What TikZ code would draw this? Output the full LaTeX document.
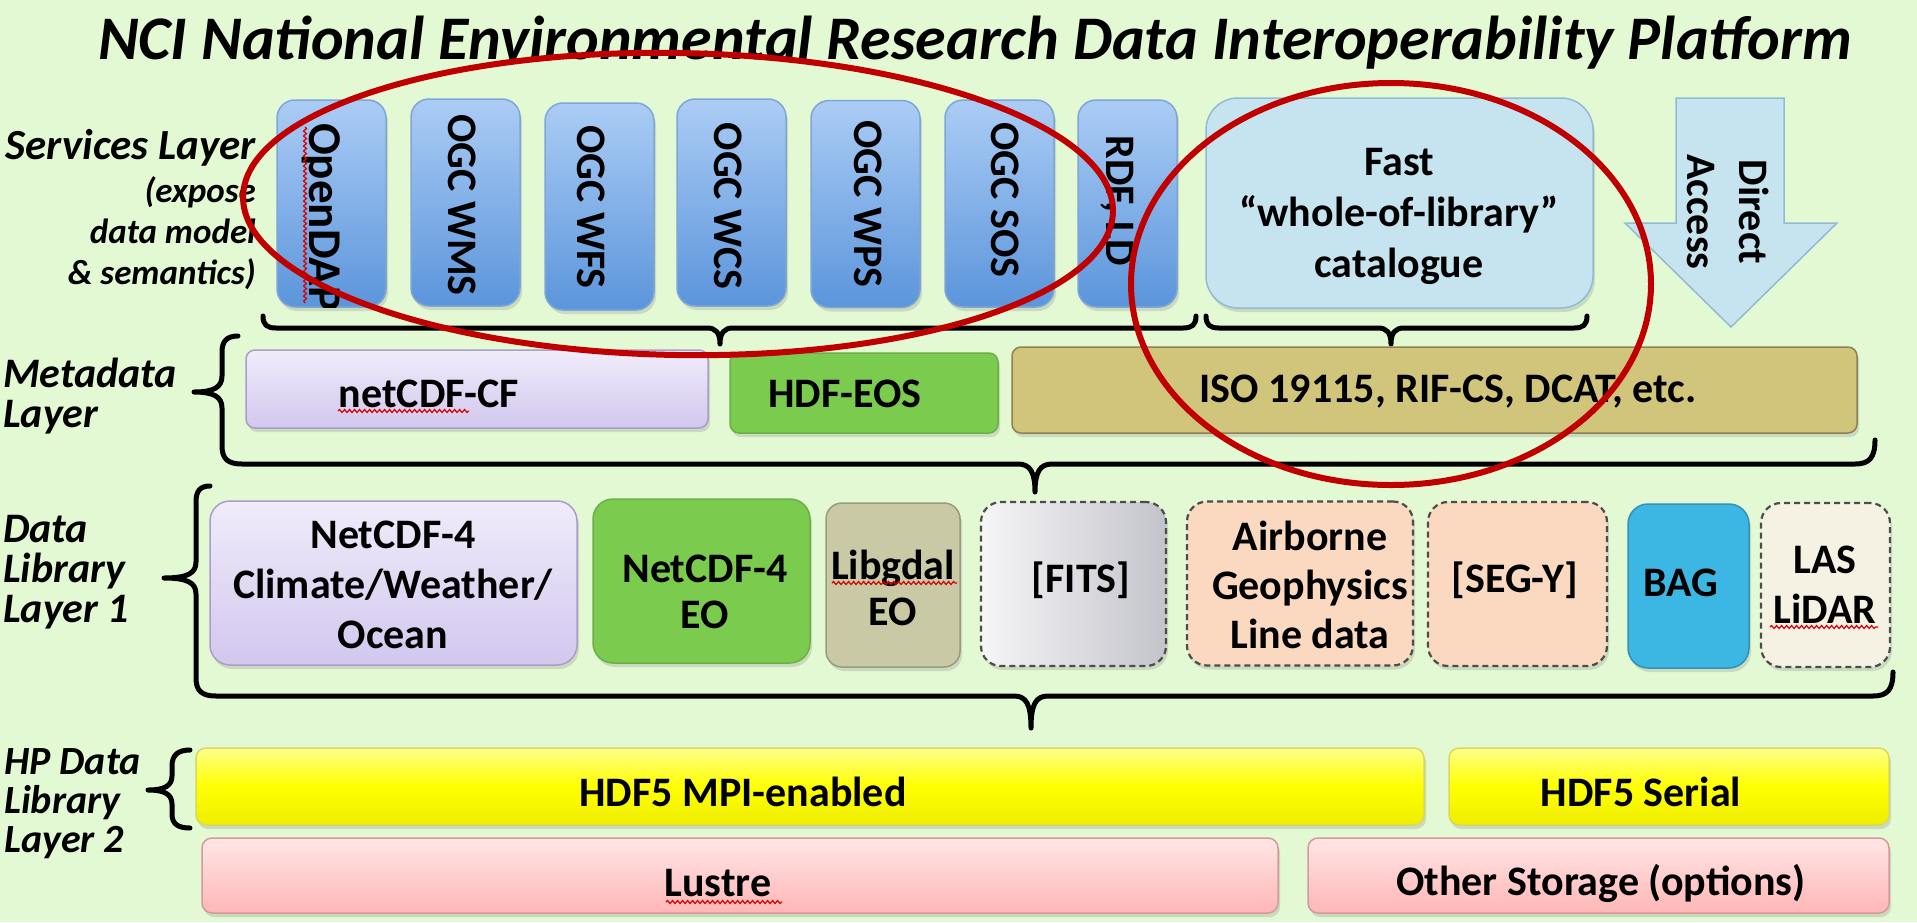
\documentclass[tikz,border=0pt]{standalone}
\usepackage{fontspec}
\setmainfont{Carlito}
\usetikzlibrary{shadows,decorations.pathmorphing}
\definecolor{bg}{HTML}{E3F9D4}
\definecolor{blueTop}{HTML}{ABCCF5}
\definecolor{blueBot}{HTML}{5B95DB}
\definecolor{blueDraw}{HTML}{7FA6D6}
\definecolor{catFill}{HTML}{C6E4EF}
\definecolor{catDraw}{HTML}{93BAD3}
\definecolor{lavTop}{HTML}{F0ECFA}
\definecolor{lavBot}{HTML}{D2C7EE}
\definecolor{lavDraw}{HTML}{A99DCB}
\definecolor{grn}{HTML}{7ACB4E}
\definecolor{grnDraw}{HTML}{6BB046}
\definecolor{khaki}{HTML}{D1C47B}
\definecolor{khakiDraw}{HTML}{8C8254}
\definecolor{gdal}{HTML}{C9C9A6}
\definecolor{gdalDraw}{HTML}{9A9A80}
\definecolor{fitsL}{HTML}{F6F6F8}
\definecolor{fitsR}{HTML}{C3C3CB}
\definecolor{peach}{HTML}{FBD9C0}
\definecolor{bag}{HTML}{3CB6E3}
\definecolor{las}{HTML}{F5F1E3}
\definecolor{yelTop}{HTML}{FFFF8A}
\definecolor{yel}{HTML}{FFFF00}
\definecolor{yelBot}{HTML}{EEEE00}
\definecolor{yelDraw}{HTML}{D8D860}
\definecolor{pinkTop}{HTML}{FFE6E6}
\definecolor{pinkBot}{HTML}{FFB6B6}
\definecolor{pinkDraw}{HTML}{D49A9A}
\definecolor{ring}{HTML}{C00000}
\tikzset{
  box/.style={rounded corners=10pt, line width=1.5pt, inner sep=0pt,
    drop shadow={shadow xshift=2pt, shadow yshift=-4pt, opacity=0.25}},
  svc/.style={box, rounded corners=18pt, draw=blueDraw, top color=blueTop, bottom color=blueBot,
    minimum width=109pt, minimum height=207pt},
  meta/.style={box, rounded corners=9pt, minimum height=80pt},
  lib/.style={box, rounded corners=20pt, minimum height=164pt},
  dash box/.style={lib, draw=black!70, line width=2.2pt, dash pattern=on 6pt off 4pt},
  hp/.style={box, rounded corners=10pt, minimum height=77pt},
  txt/.style={font=\fontsize{42}{50}\selectfont\bfseries, align=center, inner sep=0pt},
  vtxt/.style={txt, rotate=-90},
  lbl/.style={font=\fontsize{42}{40}\selectfont\bfseries\itshape, align=left, inner sep=0pt, anchor=west},
  bracepath/.style={draw=black, line width=5pt, line cap=round, line join=round},
  squig/.style={draw=red!85!black, line width=1.2pt, decorate,
    decoration={snake, segment length=5pt, amplitude=1.5pt}},
  redring/.style={draw=ring, line width=6pt}
}
\begin{document}
\begin{tikzpicture}[x=1pt,y=-1pt]
\fill[bg] (0,0) rectangle (1917,922);
\useasboundingbox (0,0) rectangle (1917,922);

% title
\node[inner sep=0pt, anchor=base, font=\fontsize{62}{68}\selectfont\bfseries\itshape] (title) at (975,59)
  {NCI National Environmental Research Data Interoperability Platform};

% left labels
\node[lbl, anchor=east, align=right, font=\fontsize{43}{40}\selectfont\bfseries\itshape] (svcL) at (256,148) {Services Layer};
\node[lbl, anchor=east, align=right, font=\fontsize{35}{41}\selectfont\bfseries\itshape] (svcS) at (256,233)
  {(expose\\data model\\\& semantics)};
\node[lbl] (metaL) at (3,396) {Metadata\\Layer};
\node[lbl] (dlL) at (3,572) {Data\\Library\\Layer 1};
\node[lbl, font=\fontsize{40}{39}\selectfont\bfseries\itshape] (hpL) at (4,804) {HP Data\\Library\\Layer 2};

% services boxes
\node[svc] (dap) at (331.5,203.5) {};
\node[svc] (wms) at (465.5,202.5) {};
\node[svc] (wfs) at (599.5,206.5) {};
\node[svc] (wcs) at (731.5,202.5) {};
\node[svc] (wps) at (865.5,204) {};
\node[svc] (sos) at (999.5,203.5) {};
\node[svc, minimum width=99pt] (rdf) at (1127.5,203.5) {};
\begin{scope}
  \clip[rounded corners=18pt] (277,100) rectangle (386,307);
  \node[vtxt, anchor=west, font=\fontsize{47}{50}\selectfont\bfseries] (dapT) at (321,123) {OpenDAP};
\end{scope}
\node[vtxt] (wmsT) at (462,205) {OGC WMS};
\node[vtxt] (wfsT) at (591,207) {OGC WFS};
\node[vtxt] (wcsT) at (728,206) {OGC WCS};
\node[vtxt] (wpsT) at (868,204) {OGC WPS};
\node[vtxt] (sosT) at (1005,200) {OGC SOS};
\node[vtxt] (rdfT) at (1117,201) {RDF, LD};

% catalogue
\node[box, rounded corners=32pt, draw=catDraw, fill=catFill, minimum width=387pt, minimum height=210pt] (cat) at (1399.5,203) {};
\node[txt, font=\fontsize{42}{51}\selectfont\bfseries] (catT) at (1399,216) {Fast\\``whole-of-library''\\catalogue};

% direct access arrow
\draw[fill=catFill, draw=catDraw, line width=1.5pt]
  (1676,98) -- (1784,98) -- (1784,223) -- (1837,223) -- (1731,327) -- (1625,223) -- (1676,223) -- cycle;
\node[vtxt, font=\fontsize{42}{52}\selectfont\bfseries] (daT) at (1728,212) {Direct\\Access};

% braces under services
\draw[bracepath] (263,316) .. controls (263,325) and (267,328) .. (276,328) -- (707,328)
  .. controls (716,328) and (720,333) .. (720,344) .. controls (720,333) and (724,328) .. (733,328)
  -- (1183,328) .. controls (1192,328) and (1196,325) .. (1196,316);
\draw[bracepath] (1206,316) .. controls (1206,325) and (1210,328) .. (1219,328) -- (1378,328)
  .. controls (1387,328) and (1391,333) .. (1391,344) .. controls (1391,333) and (1395,328) .. (1404,328)
  -- (1574,328) .. controls (1583,328) and (1587,325) .. (1587,316);

% metadata layer
\node[meta, draw=lavDraw, top color=lavTop, bottom color=lavBot, minimum width=462pt, minimum height=78pt] (cf) at (477,389) {};
\node[meta, draw=grnDraw, fill=grn, minimum width=268pt] (eos) at (864,393) {};
\node[meta, draw=khakiDraw, fill=khaki, minimum width=845pt, minimum height=86pt] (iso) at (1434.5,390) {};
\node[txt] (cfT) at (429,394) {netCDF-CF};
\node[txt] (eosT) at (845,394) {HDF-EOS};
\node[txt] (isoT) at (1448,392) {ISO 19115, RIF-CS, DCAT, etc.};

\draw[bracepath] (238,336) .. controls (227,336) and (222,341) .. (222,352) -- (222,376)
  .. controls (222,387) and (214,392) .. (194,392) .. controls (214,392) and (222,397) .. (222,408)
  -- (222,446) .. controls (222,459) and (228,464) .. (242,464) -- (1018,464)
  .. controls (1030,464) and (1035,472) .. (1035,492) .. controls (1035,472) and (1040,464) .. (1052,464)
  -- (1855,464) .. controls (1869,464) and (1875,458) .. (1875,440);

% data library layer 1
\node[lib, draw=lavDraw, top color=lavTop, bottom color=lavBot, minimum width=367pt] (nc4) at (393.5,583) {};
\node[lib, draw=grnDraw, fill=grn, minimum width=217pt] (nc4eo) at (701.5,581) {};
\node[lib, draw=gdalDraw, fill=gdal, minimum width=134pt, rounded corners=16pt] (gdl) at (893,585) {};
\node[dash box, left color=fitsL, right color=fitsR, minimum width=185pt] (fits) at (1073.5,584) {};
\node[dash box, fill=peach, minimum width=226pt] (air) at (1300,583.5) {};
\node[dash box, fill=peach, minimum width=179pt] (segy) at (1517.5,584) {};
\node[lib, draw=bag!80!black, fill=bag, minimum width=121pt] (bagB) at (1688.5,586) {};
\node[dash box, fill=las, minimum width=129pt] (lasB) at (1825.5,585) {};
\node[txt] (nc4T) at (393,585) {NetCDF-4\\Climate/Weather/\\Ocean};
\node[txt, font=\fontsize{42}{46}\selectfont\bfseries] (nc4eoT) at (705,592) {NetCDF-4\\EO};
\node[txt, font=\fontsize{42}{46}\selectfont\bfseries] (gdlT) at (893,588) {Libgdal\\EO};
\node[txt] (fitsT) at (1081,580) {[FITS]};
\node[txt, font=\fontsize{42}{49}\selectfont\bfseries] (airT) at (1310,585) {Airborne\\Geophysics\\Line data};
\node[txt] (segyT) at (1515,580) {[SEG-Y]};
\node[txt] (bagT) at (1681,583) {BAG};
\node[txt] (lasT) at (1825,585) {LAS\\LiDAR};

\draw[bracepath] (210,486) .. controls (200,486) and (196,491) .. (196,502) -- (196,562)
  .. controls (196,573) and (188,578) .. (164,578) .. controls (188,578) and (196,583) .. (196,594)
  -- (196,678) .. controls (196,691) and (202,696) .. (216,696) -- (1014,696)
  .. controls (1026,696) and (1031,704) .. (1031,728) .. controls (1031,704) and (1036,696) .. (1048,696)
  -- (1873,696) .. controls (1887,696) and (1893,690) .. (1893,672);

% HP data library layer 2
\node[hp, draw=yelDraw, top color=yelTop, bottom color=yelBot, middle color=yel, minimum width=1228pt] (mpi) at (810,786.5) {};
\node[hp, draw=yelDraw, top color=yelTop, bottom color=yelBot, middle color=yel, minimum width=440pt] (ser) at (1669,786.5) {};
\node[hp, draw=pinkDraw, top color=pinkTop, bottom color=pinkBot, minimum width=1076pt, minimum height=75pt] (lus) at (740,875.5) {};
\node[hp, draw=pinkDraw, top color=pinkTop, bottom color=pinkBot, minimum width=581pt, minimum height=75pt] (oth) at (1598.5,875.5) {};
\node[txt] (mpiT) at (743,792) {HDF5 MPI-enabled};
\node[txt] (serT) at (1641,792) {HDF5 Serial};
\node[txt] (lusT) at (718,883) {Lustre};
\node[txt] (othT) at (1601,883) {Other Storage (options)};

\draw[bracepath] (190,750) .. controls (178,750) and (172,755) .. (172,766) -- (172,776)
  .. controls (172,786) and (164,790) .. (148,790) .. controls (164,790) and (172,794) .. (172,804)
  -- (172,814) .. controls (172,824) and (178,828) .. (190,828);

% spell-check squiggles
\draw[squig] (338,411) -- (469,411);
\draw[squig] (832,583) -- (957,583);
\draw[squig] (1770,627) -- (1878,627);
\draw[squig] (666,902) -- (782,902);
\draw[squig] (305,127) -- (305,303);

% red rings
\draw[redring, rotate around={-1:(678,204)}] (678,204) ellipse [x radius=435pt, y radius=151pt];
\draw[redring] (1391,284) ellipse [x radius=260pt, y radius=201pt];
\end{tikzpicture}
\end{document}
